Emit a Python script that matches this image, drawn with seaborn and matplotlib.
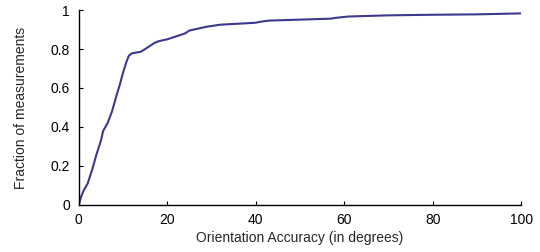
import matplotlib
matplotlib.use("Agg")
import matplotlib.pyplot as plt
import seaborn as sns
import pandas as pd

# CDF of orientation error
accuracy_deg = [0, 0.5, 1, 2, 3, 4, 5, 5.5, 6.5, 7.5, 8.5, 9.3, 10, 10.7, 11.3,
                12, 13, 14, 15, 16, 17, 18, 20, 22, 24, 25, 27, 29, 32, 36,
                40, 41, 43, 50, 57, 58, 61, 70, 80, 90, 100]
fraction = [0, 0.04, 0.07, 0.11, 0.18, 0.26, 0.33, 0.38, 0.42, 0.48, 0.56, 0.62,
            0.68, 0.73, 0.765, 0.778, 0.782, 0.786, 0.80, 0.815, 0.83, 0.84,
            0.85, 0.865, 0.88, 0.895, 0.905, 0.915, 0.925, 0.930, 0.935, 0.94,
            0.946, 0.951, 0.956, 0.96, 0.967, 0.973, 0.976, 0.978, 0.983]

x_ticks = [0, 20, 40, 60, 80, 100]
y_ticks = [0, 0.2, 0.4, 0.6, 0.8, 1]
y_ticklabels = ["0", "0.2", "0.4", "0.6", "0.8", "1"]

df = pd.DataFrame({"accuracy": accuracy_deg, "fraction": fraction})

sns.set_style("ticks")
plt.rcParams["font.family"] = ["Liberation Sans", "DejaVu Sans"]

fig = plt.figure(figsize=(5.4, 2.52), dpi=100)
ax = fig.add_axes([0.146, 0.187, 0.819, 0.773])

sns.lineplot(data=df, x="accuracy", y="fraction", color="#3d3890",
             linewidth=1.5, ax=ax)

ax.set_xlim(0, 100)
ax.set_ylim(0, 1)
ax.set_xticks(x_ticks)
ax.set_yticks(y_ticks)
ax.set_yticklabels(y_ticklabels)
ax.tick_params(direction="in", length=3, width=0.8, labelsize=10, colors="black")
ax.tick_params(axis="x", pad=5.5)
ax.tick_params(axis="y", pad=6.5)
ax.set_xlabel("Orientation Accuracy (in degrees)", fontsize=10, labelpad=3.5)
ax.set_ylabel("Fraction of measurements", fontsize=10, labelpad=16)
for side in ["top", "right"]:
    ax.spines[side].set_visible(False)
for side in ["left", "bottom"]:
    ax.spines[side].set_color("black")
    ax.spines[side].set_linewidth(1.0)

fig.savefig("out.png", dpi=100)
